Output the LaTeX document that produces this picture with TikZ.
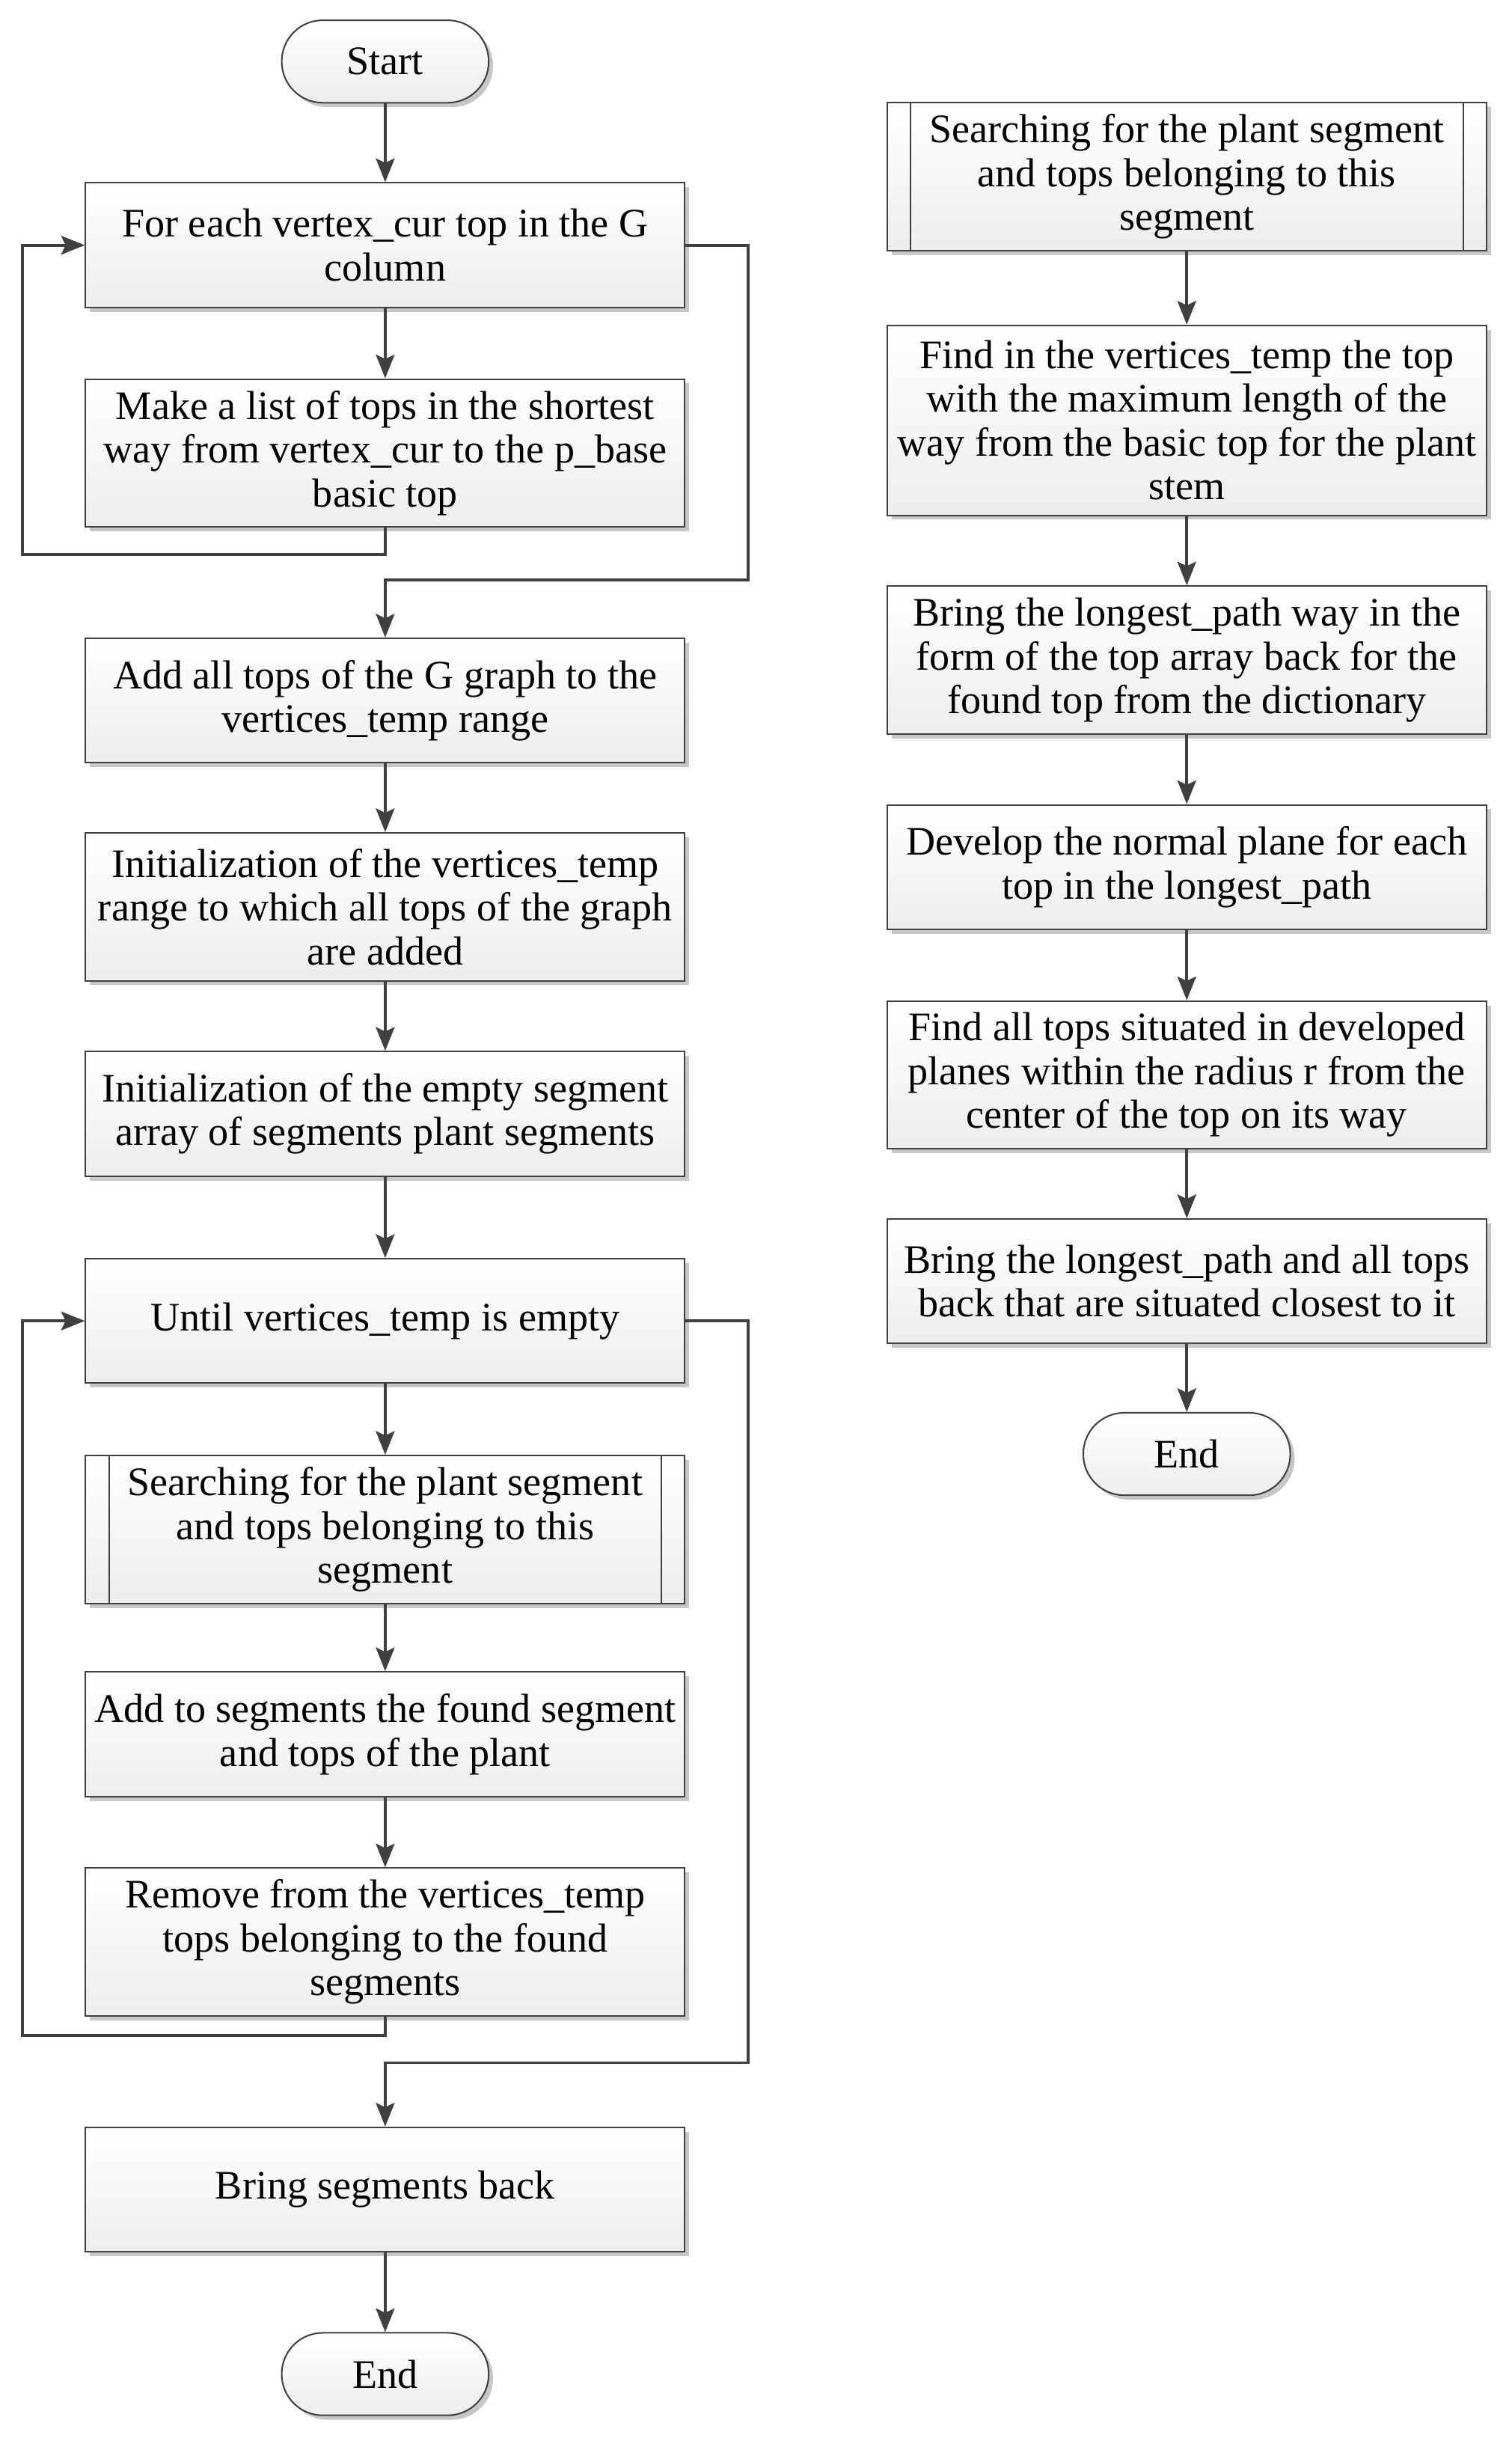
\documentclass[tikz,border=0pt]{standalone}
\usepackage{fontspec}
\setmainfont{Liberation Serif}
\usetikzlibrary{arrows.meta,shadows}
\definecolor{lineC}{HTML}{404040}
\tikzset{
  box/.style={draw=lineC, line width=0.7pt, top color=white, bottom color=black!7,
    minimum width=96.25mm, minimum height=20mm, align=center, inner sep=1mm,
    drop shadow={shadow xshift=0.7mm, shadow yshift=-0.7mm, fill=black!22, opacity=1}},
  tall/.style={minimum height=23.75mm},
  subproc/.style={box, tall, path picture={
    \draw[lineC, line width=0.7pt]
      ([xshift=3.75mm]path picture bounding box.north west) -- ([xshift=3.75mm]path picture bounding box.south west)
      ([xshift=-3.75mm]path picture bounding box.north east) -- ([xshift=-3.75mm]path picture bounding box.south east);}},
  term/.style={box, rounded corners=6.6mm, minimum width=33.25mm, minimum height=13.25mm},
  arr/.style={draw=lineC, line width=1.3pt, -{Stealth[length=3.8mm, width=3mm, inset=0.7mm]}}
}
\begin{document}
\begin{tikzpicture}[x=0.25mm, y=-0.25mm, font=\fontsize{18.5}{20}\selectfont]
  \useasboundingbox (0,0) rectangle (971,1568);
  % left column
  \node[term] (start) at (247.5,39.5) {Start};
  \node[box] (forEach) at (247.5,157.5) {For each vertex\_cur top in the G\\column};
  \node[box, tall] (makeList) at (247.5,291) {Make a list of tops in the shortest\\way from vertex\_cur to the p\_base\\basic top};
  \node[box] (addAll) at (247.5,450) {Add all tops of the G graph to the\\vertices\_temp range};
  \node[box, tall] (initRange) at (247.5,582.5) {Initialization of the vertices\_temp\\range to which all tops of the graph\\are added};
  \node[box] (initSeg) at (247.5,715.5) {Initialization of the empty segment\\array of segments plant segments};
  \node[box] (untilEmpty) at (247.5,848.5) {Until vertices\_temp is empty};
  \node[subproc] (search) at (247.5,982.5) {Searching for the plant segment\\and tops belonging to this\\segment};
  \node[box] (addSeg) at (247.5,1114) {Add to segments the found segment\\and tops of the plant};
  \node[box, tall] (removeTops) at (247.5,1247.5) {Remove from the vertices\_temp\\tops belonging to the found\\segments};
  \node[box] (bringSeg) at (247.5,1406.5) {Bring segments back};
  \node[term] (stop) at (247.5,1525) {End};
  % right column
  \node[subproc] (searchSub) at (762.5,113.5) {Searching for the plant segment\\and tops belonging to this\\segment};
  \node[box, minimum height=30.5mm] (findMax) at (762.5,270) {Find in the vertices\_temp the top\\with the maximum length of the\\way from the basic top for the plant\\stem};
  \node[box, tall] (bringPath) at (762.5,424) {Bring the longest\_path way in the\\form of the top array back for the\\found top from the dictionary};
  \node[box] (developPlane) at (762.5,557) {Develop the normal plane for each\\top in the longest\_path};
  \node[box, tall] (findTops) at (762.5,690.5) {Find all tops situated in developed\\planes within the radius r from the\\center of the top on its way};
  \node[box] (bringAll) at (762.5,823) {Bring the longest\_path and all tops\\back that are situated closest to it};
  \node[term] (stopSub) at (762.5,934) {End};
  % straight connectors
  \foreach \a/\b in {start/forEach, forEach/makeList, addAll/initRange,
    initRange/initSeg, initSeg/untilEmpty, untilEmpty/search, search/addSeg,
    addSeg/removeTops, bringSeg/stop, searchSub/findMax, findMax/bringPath,
    bringPath/developPlane, developPlane/findTops, findTops/bringAll, bringAll/stopSub}
    \draw[arr] (\a) -- (\b);
  % loops
  \draw[arr] (makeList.south) -- ++(0,-4.25mm) -| ([xshift=-10mm]forEach.west) -- (forEach.west);
  \draw[arr] (forEach.east) -- ++(10mm,0) |- ([yshift=9.25mm]addAll.north) -- (addAll.north);
  \draw[arr] (removeTops.south) -- ++(0,-3mm) -| ([xshift=-10mm]untilEmpty.west) -- (untilEmpty.west);
  \draw[arr] (untilEmpty.east) -- ++(10mm,0) |- ([yshift=10.25mm]bringSeg.north) -- (bringSeg.north);
\end{tikzpicture}
\end{document}
